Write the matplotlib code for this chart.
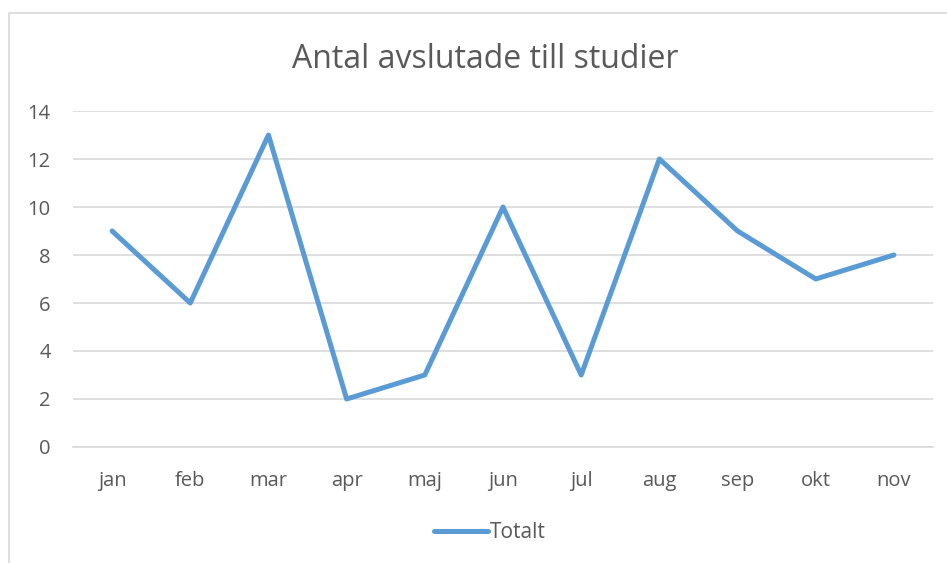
import matplotlib.pyplot as plt
from matplotlib.patches import Rectangle

months = ['jan', 'feb', 'mar', 'apr', 'maj', 'jun', 'jul', 'aug', 'sep', 'okt', 'nov']
totalt = [9, 6, 13, 2, 3, 10, 3, 12, 9, 7, 8]
y_ticks = [0, 2, 4, 6, 8, 10, 12, 14]

TEXT = '#595959'
GRID = '#d9d9d9'
BLUE = '#5b9bd5'

plt.rcParams['font.family'] = ['Open Sans', 'DejaVu Sans']

fig = plt.figure(figsize=(9.47, 5.63), dpi=100)
W, H = 947, 563

# chart border (cut off on the right and bottom)
fig.patches.append(Rectangle((8.5 / W, -0.01), 1.1, 1 - 12.5 / H + 0.01,
                             transform=fig.transFigure, fill=False,
                             edgecolor=GRID, linewidth=1.2))

ax = fig.add_axes([73 / W, 1 - 447 / H, (933 - 73) / W, (447 - 111) / H])
x = range(len(months))
ax.plot(x, totalt, color=BLUE, linewidth=3.6, solid_capstyle='round',
        solid_joinstyle='round', label='Totalt')

ax.set_xlim(-0.5, len(months) - 0.5)
ax.set_ylim(0, 14)
ax.set_yticks(y_ticks)
ax.set_xticks(list(x))
ax.set_xticklabels(months)
ax.tick_params(length=0, labelsize=14.5, colors=TEXT)
ax.tick_params(axis='y', pad=16)
ax.tick_params(axis='x', pad=17)
ax.grid(axis='y', color=GRID, linewidth=1.2)
ax.set_axisbelow(True)
for s in ['top', 'right', 'left']:
    ax.spines[s].set_visible(False)
ax.spines['bottom'].set_color(GRID)
ax.spines['bottom'].set_linewidth(1.2)

fig.text(485 / W, 1 - 59 / H, 'Antal avslutade till studier', ha='center', va='center',
         fontsize=23, color=TEXT)

leg = fig.legend(loc='center', bbox_to_anchor=(490 / W, 1 - 533 / H), frameon=False,
                 fontsize=15, handlelength=2.6, handletextpad=0.1, labelcolor=TEXT)

fig.savefig('out.png', dpi=100)
